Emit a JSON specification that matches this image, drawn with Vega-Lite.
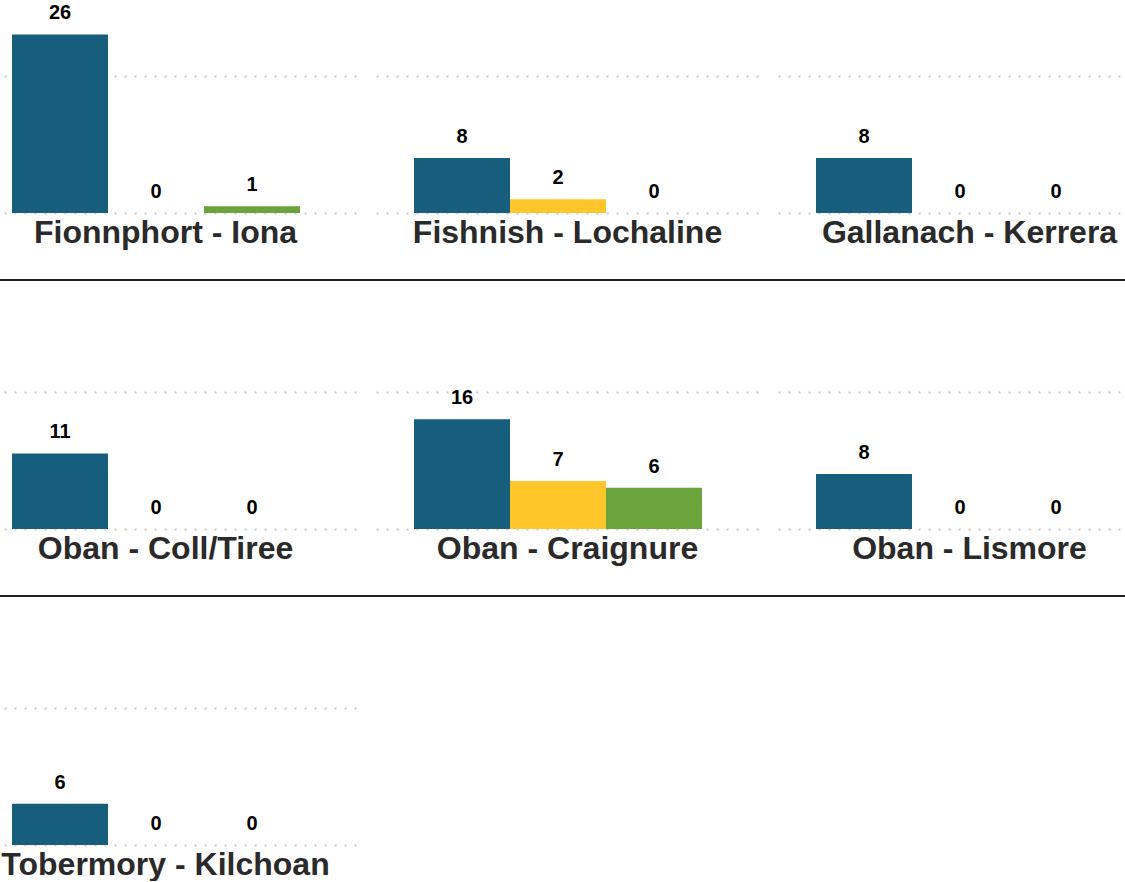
{
  "$schema": "https://vega.github.io/schema/vega-lite/v6.json",
  "autosize": {"type": "pad"},
  "padding": {"left": -27, "top": 3, "right": -24, "bottom": 0},
  "background": "white",
  "config": {
    "view": {"stroke": null},
    "font": "Liberation Sans"
  },
  "datasets": {
    "ferry": [
      {"route": "Fionnphort - Iona", "row": 1, "category": "Cancelled", "count": 26},
      {"route": "Fionnphort - Iona", "row": 1, "category": "Delayed", "count": 0},
      {"route": "Fionnphort - Iona", "row": 1, "category": "Diverted", "count": 1},
      {"route": "Fishnish - Lochaline", "row": 1, "category": "Cancelled", "count": 8},
      {"route": "Fishnish - Lochaline", "row": 1, "category": "Delayed", "count": 2},
      {"route": "Fishnish - Lochaline", "row": 1, "category": "Diverted", "count": 0},
      {"route": "Gallanach - Kerrera", "row": 1, "category": "Cancelled", "count": 8},
      {"route": "Gallanach - Kerrera", "row": 1, "category": "Delayed", "count": 0},
      {"route": "Gallanach - Kerrera", "row": 1, "category": "Diverted", "count": 0},
      {"route": "Oban - Coll/Tiree", "row": 2, "category": "Cancelled", "count": 11},
      {"route": "Oban - Coll/Tiree", "row": 2, "category": "Delayed", "count": 0},
      {"route": "Oban - Coll/Tiree", "row": 2, "category": "Diverted", "count": 0},
      {"route": "Oban - Craignure", "row": 2, "category": "Cancelled", "count": 16},
      {"route": "Oban - Craignure", "row": 2, "category": "Delayed", "count": 7},
      {"route": "Oban - Craignure", "row": 2, "category": "Diverted", "count": 6},
      {"route": "Oban - Lismore", "row": 2, "category": "Cancelled", "count": 8},
      {"route": "Oban - Lismore", "row": 2, "category": "Delayed", "count": 0},
      {"route": "Oban - Lismore", "row": 2, "category": "Diverted", "count": 0},
      {"route": "Tobermory - Kilchoan", "row": 3, "category": "Cancelled", "count": 6},
      {"route": "Tobermory - Kilchoan", "row": 3, "category": "Delayed", "count": 0},
      {"route": "Tobermory - Kilchoan", "row": 3, "category": "Diverted", "count": 0}
    ],
    "sep": [{"pos": 1}]
  },
  "spacing": 30,
  "vconcat": [
    {
      "data": {"name": "ferry"},
      "transform": [{"filter": "datum.row == 1"}],
      "facet": {"column": {"field": "route", "type": "nominal", "header": {"title": null, "labelOrient": "bottom", "labelFontSize": 32, "labelFontWeight": "bold", "labelColor": "#2a2a2a", "labelFont": "Liberation Sans", "labelPadding": 5}}},
      "spacing": {"column": 19},
      "spec": {
        "width": 383,
        "height": 206,
        "encoding": {
          "x": {"field": "category", "type": "nominal", "sort": ["Cancelled", "Delayed", "Diverted"], "axis": null, "scale": {"paddingInner": 0, "paddingOuter": 0.495, "align": 0.4}},
          "y": {"field": "count", "type": "quantitative", "scale": {"domain": [0, 30], "nice": false}, "axis": {"values": [0, 20], "grid": true, "gridDash": [2, 8], "gridColor": "#cccccc", "gridWidth": 2, "domain": false, "ticks": false, "labels": false, "title": null}}
        },
        "layer": [
          {"mark": {"type": "bar"}, "encoding": {"color": {"field": "category", "type": "nominal", "scale": {"domain": ["Cancelled", "Delayed", "Diverted"], "range": ["#175d7c", "#ffc62c", "#6ba43a"]}, "legend": null}}},
          {"mark": {"type": "text", "fontSize": 20, "fontWeight": "bold", "color": "#000000", "baseline": "alphabetic", "dy": -15, "font": "Liberation Sans"}, "encoding": {"text": {"field": "count", "type": "quantitative"}}}
        ]
      }
    },
    {
      "data": {"name": "sep"},
      "width": 1187,
      "height": 13,
      "mark": {"type": "rule", "color": "#222222", "strokeWidth": 2},
      "encoding": {"y": {"field": "pos", "type": "quantitative", "scale": {"domain": [0, 1]}, "axis": null}}
    },
    {
      "data": {"name": "ferry"},
      "transform": [{"filter": "datum.row == 2"}],
      "facet": {"column": {"field": "route", "type": "nominal", "header": {"title": null, "labelOrient": "bottom", "labelFontSize": 32, "labelFontWeight": "bold", "labelColor": "#2a2a2a", "labelFont": "Liberation Sans", "labelPadding": 5}}},
      "spacing": {"column": 19},
      "spec": {
        "width": 383,
        "height": 206,
        "encoding": {
          "x": {"field": "category", "type": "nominal", "sort": ["Cancelled", "Delayed", "Diverted"], "axis": null, "scale": {"paddingInner": 0, "paddingOuter": 0.495, "align": 0.4}},
          "y": {"field": "count", "type": "quantitative", "scale": {"domain": [0, 30], "nice": false}, "axis": {"values": [0, 20], "grid": true, "gridDash": [2, 8], "gridColor": "#cccccc", "gridWidth": 2, "domain": false, "ticks": false, "labels": false, "title": null}}
        },
        "layer": [
          {"mark": {"type": "bar"}, "encoding": {"color": {"field": "category", "type": "nominal", "scale": {"domain": ["Cancelled", "Delayed", "Diverted"], "range": ["#175d7c", "#ffc62c", "#6ba43a"]}, "legend": null}}},
          {"mark": {"type": "text", "fontSize": 20, "fontWeight": "bold", "color": "#000000", "baseline": "alphabetic", "dy": -15, "font": "Liberation Sans"}, "encoding": {"text": {"field": "count", "type": "quantitative"}}}
        ]
      }
    },
    {
      "data": {"name": "sep"},
      "width": 1187,
      "height": 13,
      "mark": {"type": "rule", "color": "#222222", "strokeWidth": 2},
      "encoding": {"y": {"field": "pos", "type": "quantitative", "scale": {"domain": [0, 1]}, "axis": null}}
    },
    {
      "data": {"name": "ferry"},
      "transform": [{"filter": "datum.row == 3"}],
      "facet": {"column": {"field": "route", "type": "nominal", "header": {"title": null, "labelOrient": "bottom", "labelFontSize": 32, "labelFontWeight": "bold", "labelColor": "#2a2a2a", "labelFont": "Liberation Sans", "labelPadding": 5}}},
      "spacing": {"column": 19},
      "spec": {
        "width": 383,
        "height": 206,
        "encoding": {
          "x": {"field": "category", "type": "nominal", "sort": ["Cancelled", "Delayed", "Diverted"], "axis": null, "scale": {"paddingInner": 0, "paddingOuter": 0.495, "align": 0.4}},
          "y": {"field": "count", "type": "quantitative", "scale": {"domain": [0, 30], "nice": false}, "axis": {"values": [0, 20], "grid": true, "gridDash": [2, 8], "gridColor": "#cccccc", "gridWidth": 2, "domain": false, "ticks": false, "labels": false, "title": null}}
        },
        "layer": [
          {"mark": {"type": "bar"}, "encoding": {"color": {"field": "category", "type": "nominal", "scale": {"domain": ["Cancelled", "Delayed", "Diverted"], "range": ["#175d7c", "#ffc62c", "#6ba43a"]}, "legend": null}}},
          {"mark": {"type": "text", "fontSize": 20, "fontWeight": "bold", "color": "#000000", "baseline": "alphabetic", "dy": -15, "font": "Liberation Sans"}, "encoding": {"text": {"field": "count", "type": "quantitative"}}}
        ]
      }
    }
  ]
}
